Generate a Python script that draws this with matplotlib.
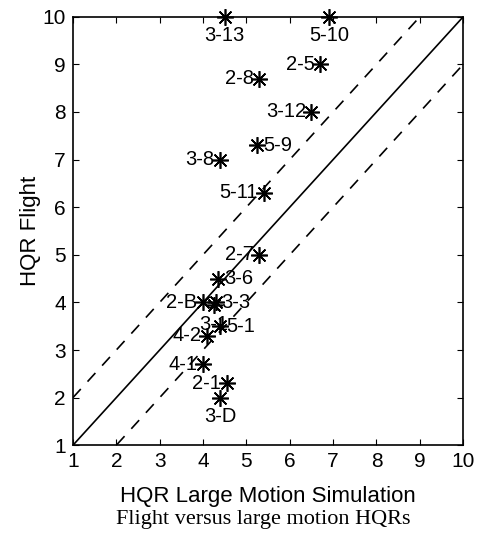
import matplotlib
matplotlib.use('Agg')
import matplotlib.pyplot as plt
import numpy as np

# Data
labels = ['3-13', '5-10', '2-5', '2-8', '3-12', '5-9', '3-8', '5-11', '2-7',
          '3-6', '2-B', '3-3', '3-1', '5-1', '4-2', '4-1', '2-1', '3-D']
sim = [4.5, 6.9, 6.7, 5.3, 6.5, 5.25, 4.4, 5.4, 5.3,
       4.35, 4.0, 4.3, 4.25, 4.4, 4.1, 4.0, 4.55, 4.4]
flight = [10.0, 10.0, 9.0, 8.7, 8.0, 7.3, 7.0, 6.3, 5.0,
          4.5, 4.0, 4.0, 3.95, 3.5, 3.3, 2.7, 2.3, 2.0]

# where each label sits relative to its marker
label_side = ['below', 'below', 'left', 'left', 'left', 'right', 'left', 'left', 'left',
              'right', 'left', 'right', 'below', 'right', 'left', 'left', 'left', 'below']

plt.rcParams['font.family'] = ['Liberation Sans', 'DejaVu Sans']

fig = plt.figure(figsize=(4.83, 5.41), dpi=100)
ax = fig.add_axes([0.151, 0.177, 0.808, 0.792])

lims = np.array([1, 10])
ax.plot(lims, lims, color='black', lw=1.2)
ax.plot(lims, lims + 1, color='black', lw=1.2, dashes=(7, 6))
ax.plot(lims, lims - 1, color='black', lw=1.2, dashes=(7, 6))

ax.plot(sim, flight, linestyle='none', marker=(8, 2, 0), markersize=12,
        markeredgewidth=1.2, color='black', clip_on=False)

for lab, x, y, side in zip(labels, sim, flight, label_side):
    if side == 'left':
        ax.annotate(lab, (x, y), xytext=(-4, 0), textcoords='offset points',
                    ha='right', va='center', fontsize=14.5)
    elif side == 'right':
        ax.annotate(lab, (x, y), xytext=(4, 0), textcoords='offset points',
                    ha='left', va='center', fontsize=14.5)
    else:
        ax.annotate(lab, (x, y), xytext=(0, -7), textcoords='offset points',
                    ha='center', va='top', fontsize=14.5)

ax.set_xlim(1, 10)
ax.set_ylim(1, 10)
ax.set_xticks(range(1, 11))
ax.set_yticks(range(1, 11))
ax.tick_params(direction='in', top=True, right=True, length=4, labelsize=15, pad=5)
for s in ax.spines.values():
    s.set_linewidth(1.2)

ax.set_xlabel('HQR Large Motion Simulation', fontsize=16, labelpad=11)
ax.set_ylabel('HQR Flight', fontsize=16, labelpad=1)

fig.text(0.545, 0.039, 'Flight versus large motion HQRs', ha='center', va='center',
         fontsize=16, family=['Liberation Serif', 'DejaVu Serif'])

fig.savefig('out.png', dpi=100)
